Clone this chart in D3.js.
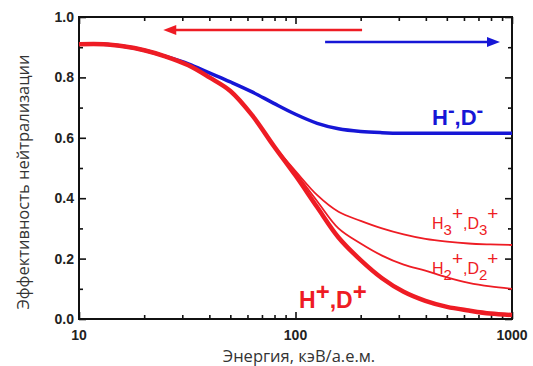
<!DOCTYPE html>
<html>
<head>
<meta charset="utf-8">
<script src="https://cdn.jsdelivr.net/npm/d3@7"></script>
<style>
  body { margin: 0; background: #fff; }
  svg { display: block; }
</style>
</head>
<body>
<div id="chart"></div>
<script>
// energy grid, keV/amu
const energy = [10, 13, 16, 20, 25, 32, 40, 50, 63, 79, 100, 126, 158, 200, 251, 316, 398, 501, 631, 794, 1000];
const negIons = [0.91, 0.91, 0.903, 0.89, 0.87, 0.845, 0.815, 0.785, 0.752, 0.715, 0.678, 0.648, 0.63, 0.621, 0.617, 0.615, 0.615, 0.615, 0.615, 0.615, 0.615];
const hPlus = [0.91, 0.91, 0.903, 0.89, 0.87, 0.84, 0.8, 0.755, 0.675, 0.575, 0.475, 0.37, 0.27, 0.195, 0.135, 0.09, 0.06, 0.04, 0.028, 0.018, 0.013];
const h2Plus = [null, null, null, null, null, null, null, null, null, 0.575, 0.485, 0.39, 0.3, 0.25, 0.21, 0.18, 0.16, 0.138, 0.12, 0.108, 0.1];
const h3Plus = [null, null, null, null, null, null, null, null, null, 0.575, 0.49, 0.41, 0.355, 0.325, 0.3, 0.28, 0.265, 0.256, 0.25, 0.247, 0.245];

const yTicks = [0, 0.2, 0.4, 0.6, 0.8, 1.0];
const xTicks = [10, 100, 1000];

// direction arrows: [from, to] energy, and level
const arrowRed = { e: [203, 24.5], v: 0.957 };
const arrowBlue = { e: [137, 880], v: 0.917 };

const RED = '#ee1c24';
const BLUE = '#1616d6';

const W = 533, H = 366;
const svg = d3.select('#chart').append('svg').attr('width', W).attr('height', H);

const x = d3.scaleLog().domain([10, 1000]).range([79, 512]);
const y = d3.scaleLinear().domain([0, 1]).range([319, 17]);

// axes (ticks pointing inward)
const minorX = [20, 30, 40, 50, 60, 70, 80, 90, 200, 300, 400, 500, 600, 700, 800, 900];
const minorY = [0.1, 0.3, 0.5, 0.7, 0.9];

function tickStyle(g) {
  g.select('.domain').remove();
  g.selectAll('.tick line').attr('stroke', '#111').attr('stroke-width', 1.6);
}

svg.append('g').attr('transform', `translate(0,${y(0)})`)
  .call(d3.axisTop(x).tickValues(xTicks).tickSize(7).tickFormat(''))
  .call(tickStyle);
svg.append('g').attr('transform', `translate(0,${y(0)})`)
  .call(d3.axisTop(x).tickValues(minorX).tickSize(4).tickFormat(''))
  .call(tickStyle);
svg.append('g').attr('transform', `translate(0,${y(1)})`)
  .call(d3.axisBottom(x).tickValues(xTicks).tickSize(7).tickFormat(''))
  .call(tickStyle);
svg.append('g').attr('transform', `translate(0,${y(1)})`)
  .call(d3.axisBottom(x).tickValues(minorX).tickSize(4).tickFormat(''))
  .call(tickStyle);
svg.append('g').attr('transform', `translate(${x(10)},0)`)
  .call(d3.axisRight(y).tickValues(yTicks).tickSize(7).tickFormat(''))
  .call(tickStyle);
svg.append('g').attr('transform', `translate(${x(10)},0)`)
  .call(d3.axisRight(y).tickValues(minorY).tickSize(4).tickFormat(''))
  .call(tickStyle);
svg.append('g').attr('transform', `translate(${x(1000)},0)`)
  .call(d3.axisLeft(y).tickValues(yTicks).tickSize(7).tickFormat(''))
  .call(tickStyle);
svg.append('g').attr('transform', `translate(${x(1000)},0)`)
  .call(d3.axisLeft(y).tickValues(minorY).tickSize(4).tickFormat(''))
  .call(tickStyle);

// tick labels
const labelFont = 'Liberation Sans, Arial, sans-serif';
svg.append('g').selectAll('text').data(xTicks).join('text')
  .attr('x', d => x(d)).attr('y', 340)
  .attr('text-anchor', 'middle')
  .attr('font-family', labelFont).attr('font-weight', 'bold').attr('font-size', 14)
  .attr('fill', '#222')
  .text(d => d);
svg.append('g').selectAll('text').data(yTicks).join('text')
  .attr('x', 74).attr('y', d => y(d) + 5)
  .attr('text-anchor', 'end')
  .attr('font-family', labelFont).attr('font-weight', 'bold').attr('font-size', 14)
  .attr('fill', '#222')
  .text(d => d.toFixed(1));

// frame
svg.append('rect')
  .attr('x', x(10)).attr('y', y(1))
  .attr('width', x(1000) - x(10)).attr('height', y(0) - y(1))
  .attr('fill', 'none').attr('stroke', '#111').attr('stroke-width', 2);

// curves
const line = vals => d3.line()
  .defined((d, i) => vals[i] != null)
  .x(d => x(d))
  .y((d, i) => y(vals[i]))
  .curve(d3.curveCatmullRom.alpha(0.5))(energy);

svg.append('path').attr('d', line(h3Plus))
  .attr('fill', 'none').attr('stroke', RED).attr('stroke-width', 1.8);
svg.append('path').attr('d', line(h2Plus))
  .attr('fill', 'none').attr('stroke', RED).attr('stroke-width', 1.8);
svg.append('path').attr('d', line(negIons))
  .attr('fill', 'none').attr('stroke', BLUE).attr('stroke-width', 3.5);
svg.append('path').attr('d', line(hPlus))
  .attr('fill', 'none').attr('stroke', RED).attr('stroke-width', 4.5);

// arrows
function arrow(a, color) {
  const x0 = x(a.e[0]), x1 = x(a.e[1]), yy = y(a.v);
  const dir = Math.sign(x1 - x0);
  svg.append('line')
    .attr('x1', x0).attr('x2', x1 - dir * 10)
    .attr('y1', yy).attr('y2', yy)
    .attr('stroke', color).attr('stroke-width', 2.6);
  svg.append('path')
    .attr('d', `M${x1},${yy} L${x1 - dir * 13},${yy - 5} L${x1 - dir * 13},${yy + 5} Z`)
    .attr('fill', color);
}
arrow(arrowRed, RED);
arrow(arrowBlue, BLUE);

// series labels
const annFont = 'Liberation Sans, Arial, sans-serif';

function ionLabel(px, py, size, weight, color, parts) {
  const t = svg.append('text')
    .attr('x', px).attr('y', py)
    .attr('font-family', annFont).attr('font-size', size)
    .attr('font-weight', weight).attr('fill', color);
  parts.forEach(p => {
    t.append('tspan')
      .attr('dy', p.dy || 0)
      .attr('font-size', p.size || size)
      .text(p.t);
  });
}

ionLabel(432, 125, 22, 'bold', BLUE, [
  { t: 'H' }, { t: '-', dy: -8, size: 20 }, { t: ',D', dy: 8 }, { t: '-', dy: -8, size: 20 }
]);
ionLabel(432, 229, 16, 'normal', RED, [
  { t: 'H' }, { t: '3', dy: 6, size: 15 }, { t: '+', dy: -15, size: 19 }, { t: ',D', dy: 9 },
  { t: '3', dy: 6, size: 15 }, { t: '+', dy: -15, size: 19 }
]);
ionLabel(432, 274, 16, 'normal', RED, [
  { t: 'H' }, { t: '2', dy: 6, size: 15 }, { t: '+', dy: -15, size: 19 }, { t: ',D', dy: 9 },
  { t: '2', dy: 6, size: 15 }, { t: '+', dy: -15, size: 19 }
]);
ionLabel(299, 308, 23, 'bold', RED, [
  { t: 'H' }, { t: '+', dy: -8, size: 24 }, { t: ',D', dy: 8 }, { t: '+', dy: -8, size: 24 }
]);

// axis titles
svg.append('text')
  .attr('x', 299).attr('y', 362)
  .attr('text-anchor', 'middle')
  .attr('font-family', 'Open Sans, sans-serif').attr('font-size', 16.5)
  .attr('fill', '#333')
  .text('Энергия, кэВ/а.е.м.');
svg.append('text')
  .attr('transform', 'translate(29,182) rotate(-90)')
  .attr('text-anchor', 'middle')
  .attr('font-family', 'Open Sans, sans-serif').attr('font-size', 16.5)
  .attr('fill', '#333')
  .text('Эффективность нейтрализации');
</script>
</body>
</html>
